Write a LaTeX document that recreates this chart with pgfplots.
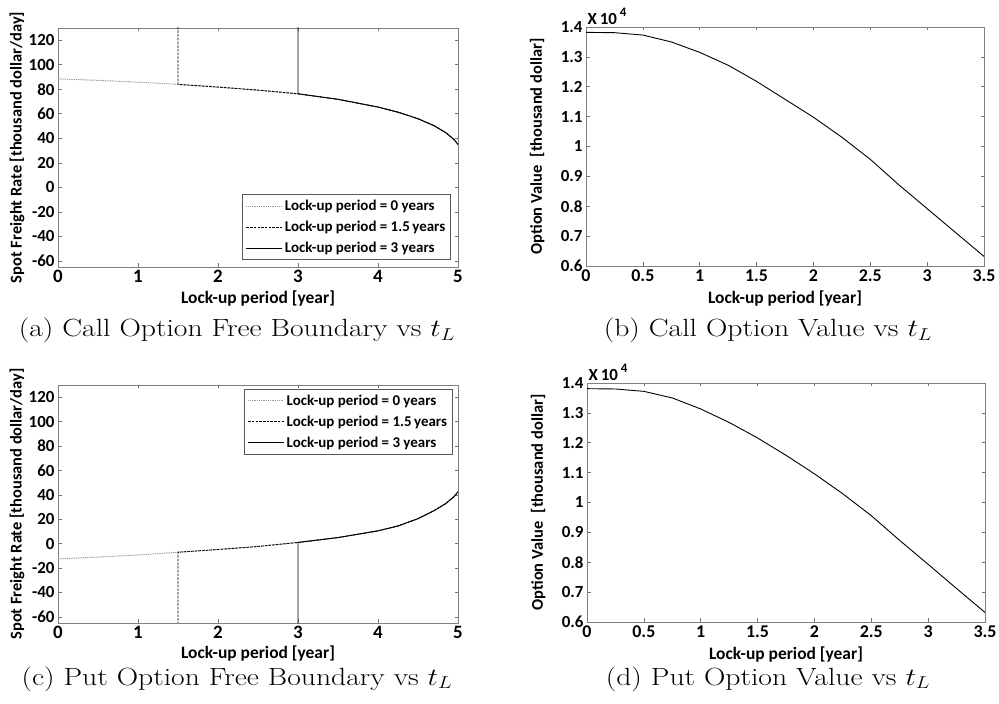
\documentclass[border=0pt]{standalone}
\usepackage{fontspec}
\usepackage{pgfplots}
\pgfplotsset{compat=1.18}
\newfontfamily\carlito{Carlito}
\newcommand{\fs}[1]{\fontsize{#1}{#1}\selectfont}
\tikzset{subcap/.style={anchor=base, font=\fs{25}, xscale=1.19}}
\pgfplotsset{
  base/.style={
    scale only axis,
    axis line style={draw=black!50, line width=0.9bp},
    tick style={draw=black!55, line width=0.6bp},
    major tick length=3.5bp,
    tick align=inside,
    /pgf/number format/assume math mode=true,
    xticklabel style={font=\carlito\bfseries\fs{19}},
    yticklabel style={font=\carlito\bfseries\fs{17}},
    xlabel style={font=\carlito\bfseries\fs{17.5}},
    ylabel style={font=\carlito\bfseries\fs{16.5}},
    xlabel={Lock-up period [year]},
  },
  bnd/.style={base, width=400bp, height=239bp, xmin=0, xmax=5, ymin=-65, ymax=130,
    xtick={0,1,2,3,4,5}, ytick={-60,-40,-20,0,20,40,60,80,100,120},
    ylabel={Spot Freight Rate [thousand dollar/day]},
    ylabel style={at={(axis description cs:-0.1025,0.5)}, anchor=center},
    xlabel style={at={(axis description cs:0.5,-0.13)}, anchor=center},
    legend style={draw=black!65, line width=0.9bp, fill=white, font=\carlito\bfseries\fs{15},
      inner sep=3.5bp, row sep=5bp, cells={anchor=west}},
    legend image code/.code={\draw[#1, line width=1bp] (0bp,0bp) -- (36bp,0bp);},
    clip=true},
  val/.style={base, width=398bp, height=239bp, xmin=0, xmax=3.5, ymin=6000, ymax=14000,
    xtick={0,0.5,1,1.5,2,2.5,3,3.5}, ytick={6000,7000,8000,9000,10000,11000,12000,13000,14000},
    xticklabel style={font=\carlito\bfseries\fs{18}},
    scaled y ticks=base 10:-4,
    ytick scale label code/.code={\carlito\bfseries\fs{17}X\,10\,\raisebox{0.45em}{\fs{13}4}},
    every y tick scale label/.style={at={(rel axis cs:0,1)}, anchor=south west, inner sep=1.5bp, yshift=1bp},
    ylabel={Option Value\enspace[thousand dollar]},
    ylabel style={at={(axis description cs:-0.123,0.5)}, anchor=center},
    xlabel style={at={(axis description cs:0.5,-0.134)}, anchor=center},
    /pgf/number format/fixed},
  s0/.style={color=black!40, line width=1bp, dash pattern=on 1bp off 0.8bp},
  s1/.style={color=black, line width=0.9bp, dash pattern=on 2.5bp off 1.2bp},
  s2/.style={color=black, line width=0.9bp},
}
\begin{document}
\begin{tikzpicture}
\useasboundingbox (0,0) rectangle (999bp,704bp);
% (a) Call free boundary
\begin{axis}[bnd, at={(58bp,437bp)}, anchor=south west,
  legend style={at={(0.983,0.029)}, anchor=south east}]
\addplot[s0] coordinates {(0,88.5) (0.5,87.3) (1,85.8) (1.5,84) (2,81.8) (2.5,79.3) (3,76.3) (3.5,71.8) (4,65.5) (4.25,61.3) (4.5,56) (4.7,50.3) (4.85,44.5) (4.95,39) (5,35)};
\addlegendentry{Lock-up period = 0 years}
\addplot[s1] coordinates {(1.5,131) (1.5,84) (2,81.8) (2.5,79.3) (3,76.3) (3.5,71.8) (4,65.5) (4.25,61.3) (4.5,56) (4.7,50.3) (4.85,44.5) (4.95,39) (5,35)};
\addlegendentry{Lock-up period = 1.5\,years}
\addplot[s2] coordinates {(3,131) (3,76.3) (3.5,71.8) (4,65.5) (4.25,61.3) (4.5,56) (4.7,50.3) (4.85,44.5) (4.95,39) (5,35)};
\addlegendentry{Lock-up period = 3 years}
\end{axis}
% (b) Call option value
\begin{axis}[val, at={(586bp,438bp)}, anchor=south west]
\addplot[s2] coordinates {(0,13820) (0.25,13810) (0.5,13730) (0.75,13500) (1,13150) (1.25,12720) (1.5,12180) (1.75,11580) (2,10980) (2.25,10310) (2.5,9570) (2.75,8720) (3,7920) (3.25,7120) (3.5,6320)};
\end{axis}
% (c) Put free boundary
\begin{axis}[bnd, at={(58bp,81bp)}, anchor=south west, height=238bp,
  legend style={at={(0.9875,0.983)}, anchor=north east}]
\addplot[s0] coordinates {(0,-12.5) (0.5,-11) (1,-9.3) (1.5,-7) (2,-4.8) (2.5,-2.3) (3,1) (3.5,5) (4,10.5) (4.25,14.5) (4.5,20.5) (4.7,27) (4.85,33) (4.95,38.5) (5,42.5)};
\addlegendentry{Lock-up period = 0 years}
\addplot[s1] coordinates {(1.5,-66) (1.5,-7) (2,-4.8) (2.5,-2.3) (3,1) (3.5,5) (4,10.5) (4.25,14.5) (4.5,20.5) (4.7,27) (4.85,33) (4.95,38.5) (5,42.5)};
\addlegendentry{Lock-up period = 1.5\,years}
\addplot[s2] coordinates {(3,-66) (3,1) (3.5,5) (4,10.5) (4.25,14.5) (4.5,20.5) (4.7,27) (4.85,33) (4.95,38.5) (5,42.5)};
\addlegendentry{Lock-up period = 3 years}
\end{axis}
% (d) Put option value
\begin{axis}[val, at={(587bp,82bp)}, anchor=south west]
\addplot[s2] coordinates {(0,13810) (0.25,13800) (0.5,13720) (0.75,13500) (1,13130) (1.25,12680) (1.5,12160) (1.75,11580) (2,10960) (2.25,10290) (2.5,9560) (2.75,8730) (3,7930) (3.25,7120) (3.5,6320)};
\end{axis}
% captions
\node[subcap] at (237bp,367bp) {(a) Call Option Free Boundary vs $t_L$};
\node[subcap] at (768bp,367bp) {(b) Call Option Value vs $t_L$};
\node[subcap] at (237bp,19bp) {(c) Put Option Free Boundary vs $t_L$};
\node[subcap] at (768bp,19bp) {(d) Put Option Value vs $t_L$};
\end{tikzpicture}
\end{document}
